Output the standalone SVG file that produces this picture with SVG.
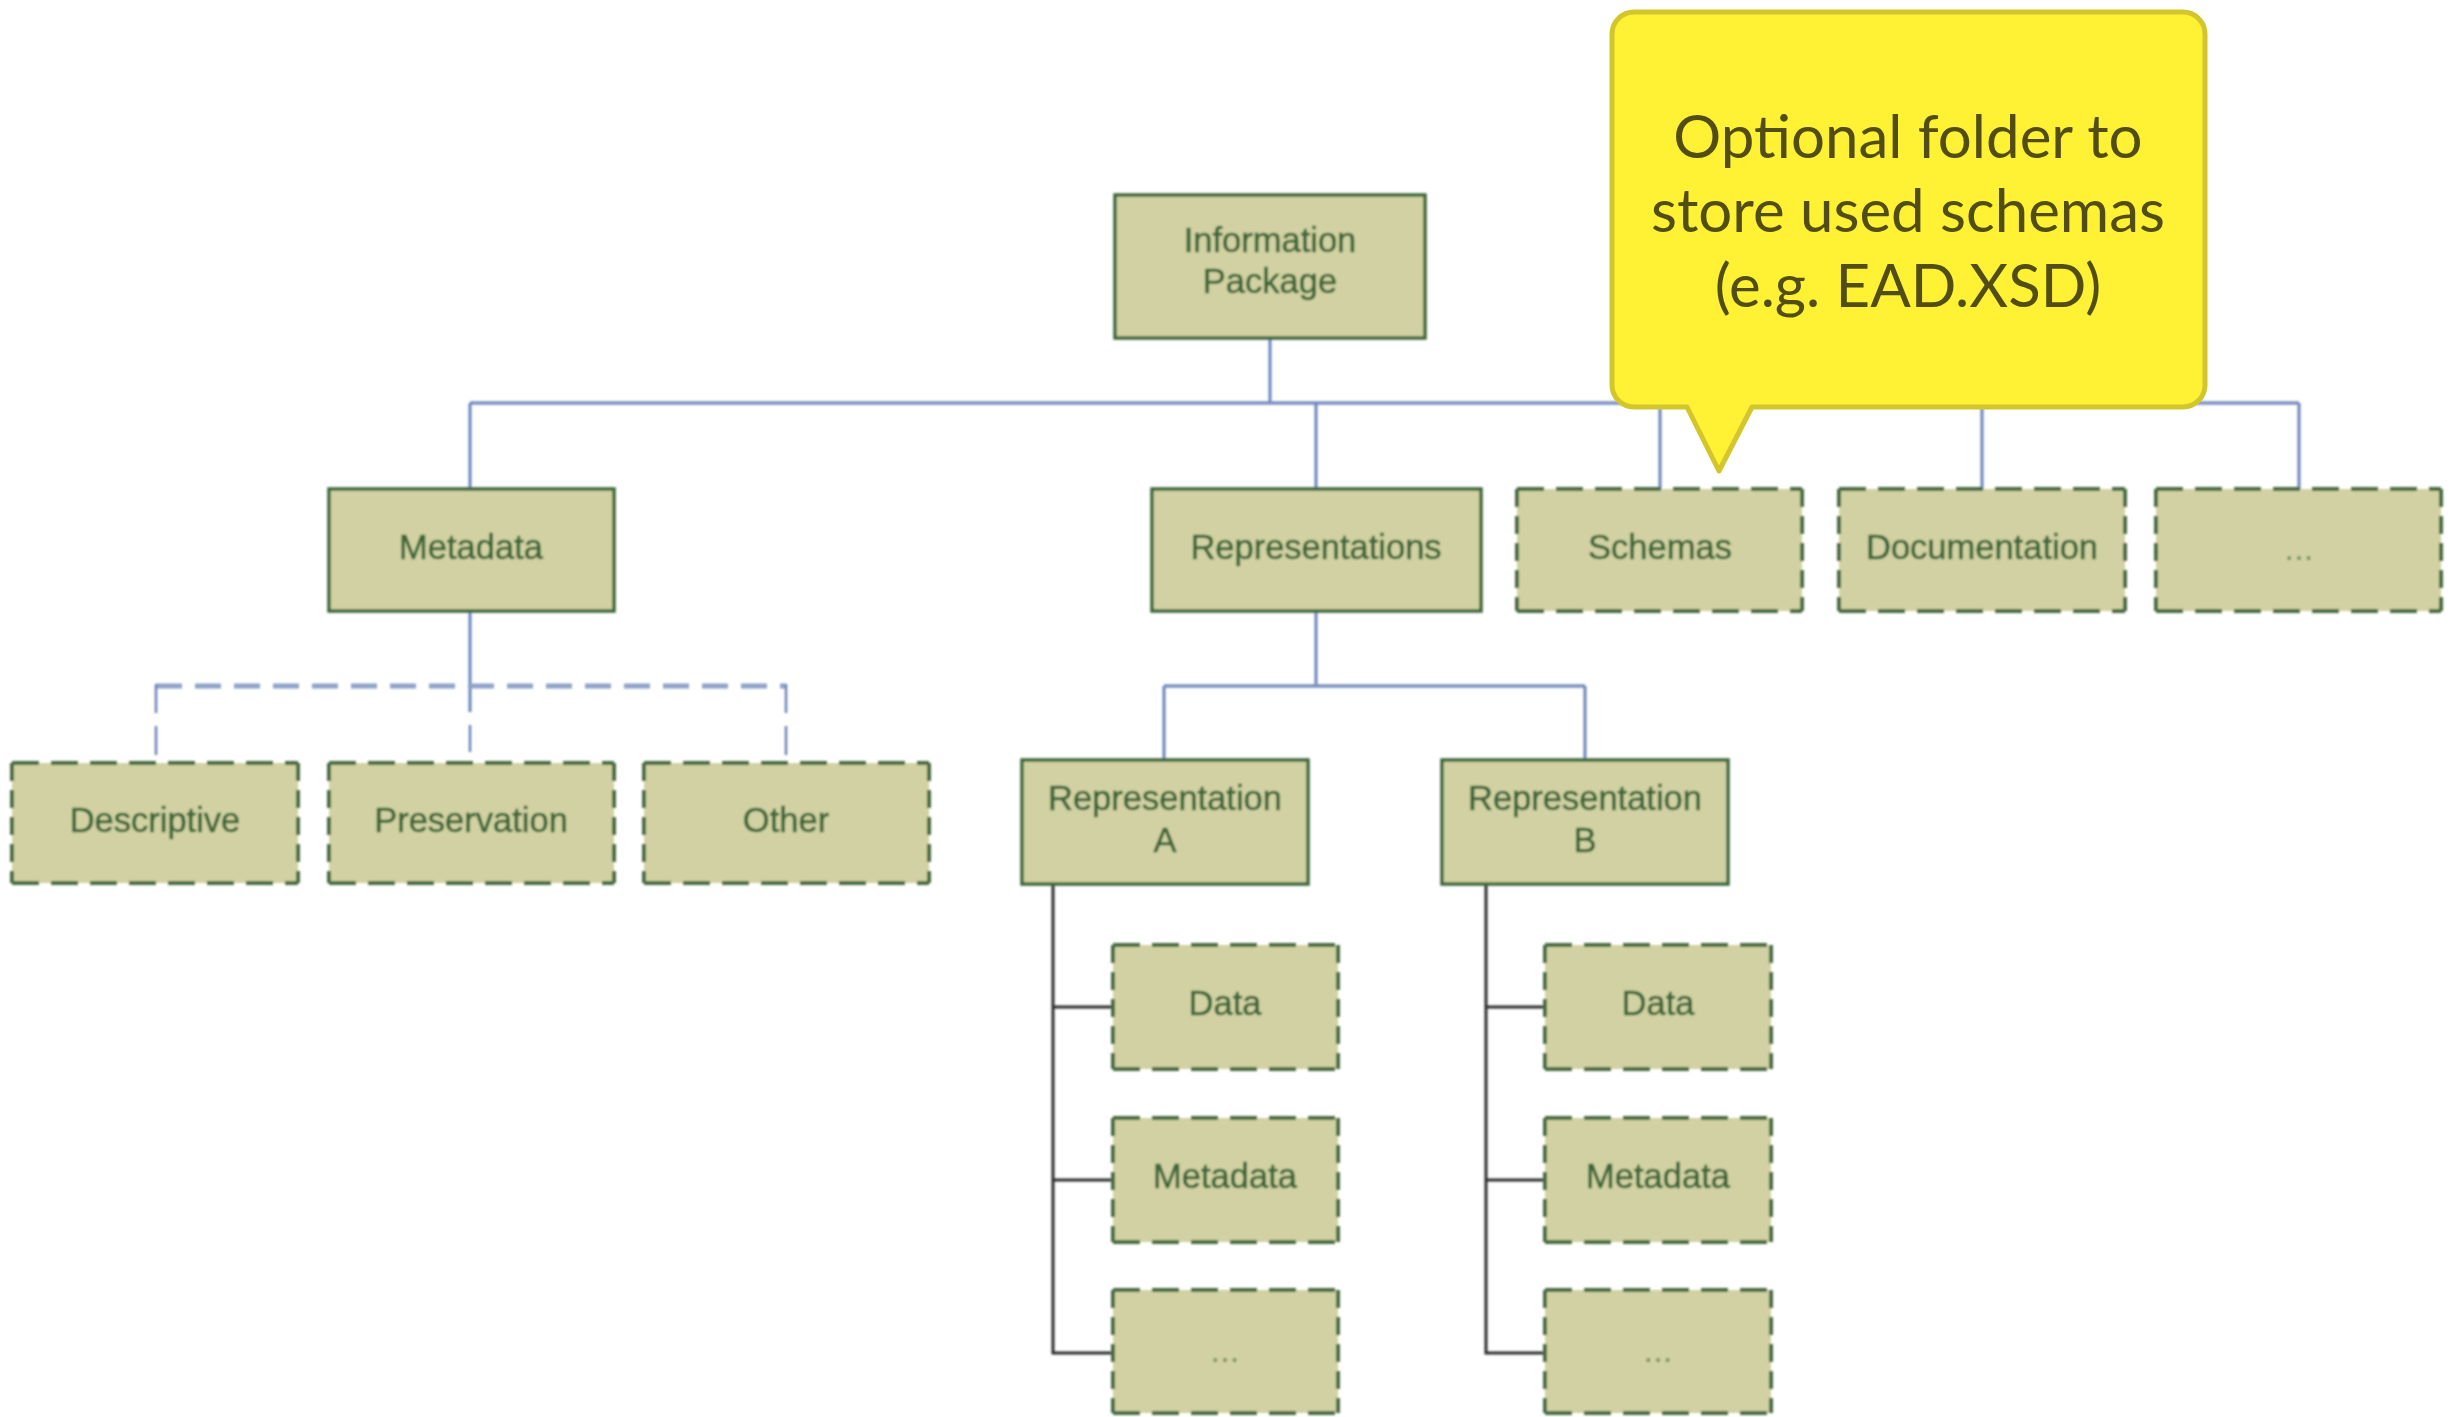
<svg xmlns="http://www.w3.org/2000/svg" width="2457" height="1417" viewBox="0 0 2457 1417">
  <defs>
    <filter id="soft" x="-2%" y="-2%" width="104%" height="104%">
      <feGaussianBlur stdDeviation="0.9"/>
    </filter>
    <style>
      .box { fill: #d1d1a3; }
      .solid { stroke: #3d6839; stroke-width: 3.5; }
      .dh { fill: none; stroke: #476b42; stroke-width: 4; stroke-dasharray: 27 12; }
      .dv { fill: none; stroke: #476b42; stroke-width: 4; stroke-dasharray: 18 9; }
      .lbl { font-family: "Liberation Sans", Arial, sans-serif; font-size: 34.5px; fill: #3c6535; stroke: #3c6535; stroke-width: 0.6; text-anchor: middle; }
      .dots { fill: #6f8d66; stroke: none; }
      .blue { fill: none; stroke: #7890c0; stroke-width: 3.5; }
      .blue-v { fill: none; stroke: #6a84b9; stroke-width: 3; }
      .blue-dash-h { fill: none; stroke: #8ea2c9; stroke-width: 5; stroke-dasharray: 26 13; }
      .blue-dash-v { fill: none; stroke: #6a84b9; stroke-width: 2.5; stroke-dasharray: 29 13; }
      .black { fill: none; stroke: #2e2e2e; stroke-width: 3; }
      .callout { fill: #fff234; stroke: #d3c52c; stroke-width: 5; stroke-linejoin: round; }
      .note { font-family: Lato, "Open Sans", sans-serif; font-size: 60px; fill: #524d14; text-anchor: middle; }
    </style>
  </defs>

  <rect width="2457" height="1417" fill="#ffffff"/>

  <g filter="url(#soft)">
    <!-- connectors -->
    <g id="connectors">
      <!-- root bus -->
      <path class="blue-v" d="M1270,338 V403"/>
      <path class="blue" d="M470,403 H2299"/>
      <path class="blue-v" d="M470,403 V489 M1316,403 V489 M1660,403 V489 M1982,403 V489 M2299,403 V489"/>
      <!-- metadata sub-folders (optional, dashed) -->
      <path class="blue-v" d="M470,611 V712"/>
      <path class="blue-dash-v" d="M470,725 V752"/>
      <path class="blue-dash-h" d="M156,686 H786"/>
      <path class="blue-dash-v" d="M156,684 V761 M786,684 V761"/>
      <!-- representations -->
      <path class="blue-v" d="M1316,611 V686"/>
      <path class="blue" d="M1164,686 H1585"/>
      <path class="blue-v" d="M1164,686 V760 M1585,686 V760"/>
      <!-- representation A contents -->
      <path class="black" d="M1053,884 V1353 H1113 M1053,1007 H1113 M1053,1180 H1113"/>
      <!-- representation B contents -->
      <path class="black" d="M1486,884 V1353 H1545 M1486,1007 H1545 M1486,1180 H1545"/>
    </g>

    <!-- root -->
    <g id="n-information-package">
      <rect class="box solid" x="1115" y="195" width="310" height="143"/>
      <text class="lbl" x="1270" y="252">Information</text>
      <text class="lbl" x="1270" y="293">Package</text>
    </g>

    <!-- first level -->
    <g id="n-metadata">
      <rect class="box solid" x="329" y="489" width="285" height="122"/>
      <text class="lbl" x="471" y="559">Metadata</text>
    </g>
    <g id="n-representations">
      <rect class="box solid" x="1152" y="489" width="329" height="122"/>
      <text class="lbl" x="1316" y="559">Representations</text>
    </g>
    <g id="n-schemas">
      <rect class="box" x="1517" y="489" width="285" height="122"/>
      <path class="dh" d="M1517,489 H1802 M1517,611 H1802"/>
      <path class="dv" d="M1517,489 V611 M1802,489 V611"/>
      <text class="lbl" x="1660" y="559">Schemas</text>
    </g>
    <g id="n-documentation">
      <rect class="box" x="1839" y="489" width="286" height="122"/>
      <path class="dh" d="M1839,489 H2125 M1839,611 H2125"/>
      <path class="dv" d="M1839,489 V611 M2125,489 V611"/>
      <text class="lbl" x="1982" y="559">Documentation</text>
    </g>
    <g id="n-other-top">
      <rect class="box" x="2156" y="489" width="285" height="122"/>
      <path class="dh" d="M2156,489 H2441 M2156,611 H2441"/>
      <path class="dv" d="M2156,489 V611 M2441,489 V611"/>
      <text class="lbl dots" x="2299" y="560">...</text>
    </g>

    <!-- metadata sub-folders -->
    <g id="n-descriptive">
      <rect class="box" x="12" y="763" width="286" height="120"/>
      <path class="dh" d="M12,763 H298 M12,883 H298"/>
      <path class="dv" d="M12,763 V883 M298,763 V883"/>
      <text class="lbl" x="155" y="832">Descriptive</text>
    </g>
    <g id="n-preservation">
      <rect class="box" x="329" y="763" width="285" height="120"/>
      <path class="dh" d="M329,763 H614 M329,883 H614"/>
      <path class="dv" d="M329,763 V883 M614,763 V883"/>
      <text class="lbl" x="471" y="832">Preservation</text>
    </g>
    <g id="n-other">
      <rect class="box" x="644" y="763" width="285" height="120"/>
      <path class="dh" d="M644,763 H929 M644,883 H929"/>
      <path class="dv" d="M644,763 V883 M929,763 V883"/>
      <text class="lbl" x="786" y="832">Other</text>
    </g>

    <!-- representations -->
    <g id="n-representation-a">
      <rect class="box solid" x="1022" y="760" width="286" height="124"/>
      <text class="lbl" x="1165" y="810">Representation</text>
      <text class="lbl" x="1165" y="852">A</text>
    </g>
    <g id="n-representation-b">
      <rect class="box solid" x="1442" y="760" width="286" height="124"/>
      <text class="lbl" x="1585" y="810">Representation</text>
      <text class="lbl" x="1585" y="852">B</text>
    </g>

    <!-- representation A contents -->
    <g id="n-a-data">
      <rect class="box" x="1113" y="945" width="225" height="124"/>
      <path class="dh" d="M1113,945 H1338 M1113,1069 H1338"/>
      <path class="dv" d="M1113,945 V1069 M1338,945 V1069"/>
      <text class="lbl" x="1225" y="1015">Data</text>
    </g>
    <g id="n-a-metadata">
      <rect class="box" x="1113" y="1118" width="225" height="124"/>
      <path class="dh" d="M1113,1118 H1338 M1113,1242 H1338"/>
      <path class="dv" d="M1113,1118 V1242 M1338,1118 V1242"/>
      <text class="lbl" x="1225" y="1188">Metadata</text>
    </g>
    <g id="n-a-more">
      <rect class="box" x="1113" y="1290" width="225" height="123"/>
      <path class="dh" d="M1113,1290 H1338 M1113,1413 H1338"/>
      <path class="dv" d="M1113,1290 V1413 M1338,1290 V1413"/>
      <text class="lbl dots" x="1225" y="1362">...</text>
    </g>

    <!-- representation B contents -->
    <g id="n-b-data">
      <rect class="box" x="1545" y="945" width="226" height="124"/>
      <path class="dh" d="M1545,945 H1771 M1545,1069 H1771"/>
      <path class="dv" d="M1545,945 V1069 M1771,945 V1069"/>
      <text class="lbl" x="1658" y="1015">Data</text>
    </g>
    <g id="n-b-metadata">
      <rect class="box" x="1545" y="1118" width="226" height="124"/>
      <path class="dh" d="M1545,1118 H1771 M1545,1242 H1771"/>
      <path class="dv" d="M1545,1118 V1242 M1771,1118 V1242"/>
      <text class="lbl" x="1658" y="1188">Metadata</text>
    </g>
    <g id="n-b-more">
      <rect class="box" x="1545" y="1290" width="226" height="123"/>
      <path class="dh" d="M1545,1290 H1771 M1545,1413 H1771"/>
      <path class="dv" d="M1545,1290 V1413 M1771,1290 V1413"/>
      <text class="lbl dots" x="1658" y="1362">...</text>
    </g>
  </g>

  <!-- speech-bubble note pointing at the Schemas folder -->
  <g id="n-note">
    <path class="callout" d="M1634,12 H2183 A22,22 0 0 1 2205,34 V385 A22,22 0 0 1 2183,407 H1752 L1719,471 L1687,407 H1634 A22,22 0 0 1 1612,385 V34 A22,22 0 0 1 1634,12 Z"/>
    <text class="note" x="1908" y="158">Optional folder to</text>
    <text class="note" x="1908" y="232">store used schemas</text>
    <text class="note" x="1908" y="307">(e.g. EAD.XSD)</text>
  </g>
</svg>
